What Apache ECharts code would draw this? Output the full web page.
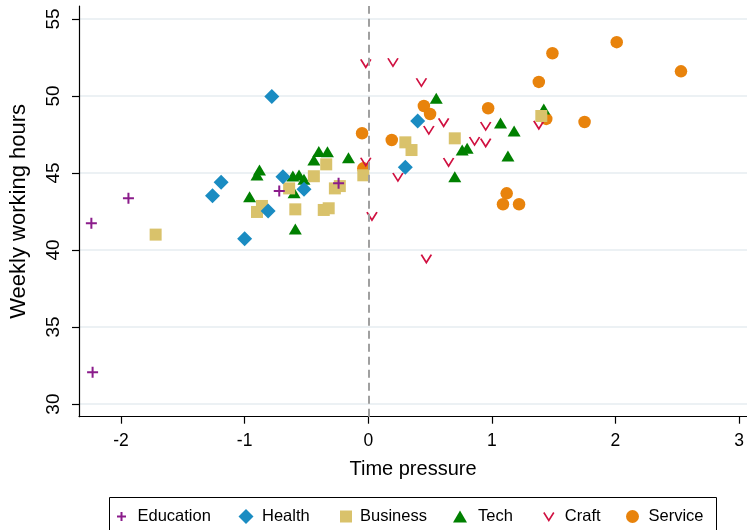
<!DOCTYPE html>
<html>
<head>
<meta charset="utf-8">
<script src="https://cdn.jsdelivr.net/npm/echarts@6/dist/echarts.min.js"></script>
<style>
  html, body { margin: 0; padding: 0; background: #fff; }
  #chart { width: 747px; height: 530px; }
</style>
</head>
<body>
<div id="chart"></div>
<script>
// Occupation groups: time pressure vs. weekly working hours
const categories = ['Education', 'Health', 'Business', 'Tech', 'Craft', 'Service'];
const xTicks = [-2, -1, 0, 1, 2, 3];
const yTicks = [30, 35, 40, 45, 50, 55];

const education = [[-2.24, 41.73], [-1.94, 43.36], [-0.72, 43.83], [-0.24, 44.33], [-2.23, 32.06]];
const health = [[-1.19, 44.40], [-1.26, 43.53], [-1.00, 40.73], [-0.78, 49.96], [-0.69, 44.76],
  [-0.52, 43.94], [-0.81, 42.53], [0.40, 48.38], [0.30, 45.37]];
const business = [[-1.72, 41.00], [-0.90, 42.47], [-0.86, 42.86], [-0.64, 44.00], [-0.44, 44.79],
  [-0.34, 45.56], [-0.59, 42.64], [-0.36, 42.60], [-0.32, 42.71], [-0.27, 44.00], [-0.23, 44.15],
  [-0.04, 44.85], [0.30, 46.99], [0.35, 46.49], [0.70, 47.25], [1.40, 48.70]];
const tech = [[-0.96, 43.46], [-0.88, 45.19], [-0.90, 44.87], [-0.61, 44.81], [-0.56, 44.87],
  [-0.52, 44.59], [-0.60, 43.72], [-0.59, 41.36], [-0.40, 46.40], [-0.33, 46.38], [-0.44, 45.84],
  [-0.16, 45.99], [0.55, 49.85], [0.76, 46.49], [0.80, 46.60], [1.07, 48.25], [1.18, 47.73],
  [1.13, 46.10], [0.70, 44.76], [1.42, 49.16]];
const craft = [[-0.02, 52.12], [0.20, 52.19], [0.43, 50.89], [0.61, 48.29], [0.49, 47.79],
  [0.86, 47.08], [0.95, 46.97], [0.95, 48.05], [0.65, 45.71], [0.24, 44.74], [-0.02, 45.73],
  [0.03, 42.20], [0.47, 39.44], [1.38, 48.12]];
const service = [[-0.05, 47.58], [-0.04, 45.30], [0.45, 49.35], [0.50, 48.83], [0.97, 49.20],
  [0.19, 47.14], [1.12, 43.68], [1.09, 42.97], [1.22, 42.97], [1.38, 50.91], [2.01, 53.49],
  [1.49, 52.77], [2.53, 51.60], [1.44, 48.51], [1.75, 48.31]];

const FONT = "'Liberation Sans', Arial, sans-serif";

// marker look for each group; legend icon box (lw x lh), its left edge and text padding
const styles = {
  Education: { symbol: 'path://M5,0L5,10M0,5L10,5', size: 11, fill: 'transparent', stroke: '#8b1c8b', width: 2,
               lw: 22, lh: 9, left: 116, pad: 0 },
  Health:    { symbol: 'diamond', size: 15, fill: '#1a8cc2', stroke: null, width: 0,
               lw: 15, lh: 15, left: 238.5, pad: 3.5 },
  Business:  { symbol: 'rect', size: 12, fill: '#d9c26b', stroke: null, width: 0,
               lw: 12, lh: 12, left: 340, pad: 3 },
  Tech:      { symbol: 'triangle', size: [13, 11], fill: '#008000', stroke: null, width: 0,
               lw: 14, lh: 12, left: 453, pad: 6 },
  Craft:     { symbol: 'path://M0,0L5,8L10,0', size: [10, 8], fill: 'transparent', stroke: '#d01040', width: 1.6,
               lw: 22, lh: 8, left: 543, pad: 0 },
  Service:   { symbol: 'circle', size: 12.5, fill: '#e8830c', stroke: null, width: 0,
               lw: 22, lh: 13, left: 626, pad: 0 }
};
const seriesData = { Education: education, Health: health, Business: business, Tech: tech, Craft: craft, Service: service };

// later groups sit underneath earlier ones
const drawOrder = ['Service', 'Craft', 'Tech', 'Business', 'Health', 'Education'];

const series = drawOrder.map((name) => {
  const s = styles[name];
  return {
    name: name,
    type: 'scatter',
    data: seriesData[name],
    symbol: s.symbol,
    symbolSize: s.size,
    itemStyle: {
      color: s.fill,
      borderColor: s.stroke || s.fill,
      borderWidth: s.width,
      opacity: 1
    },
    emphasis: { disabled: true }
  };
});

// dashed reference line at zero time pressure
series.push({
  name: 'zero',
  type: 'scatter',
  data: [],
  silent: true,
  markLine: {
    silent: true,
    symbol: 'none',
    label: { show: false },
    lineStyle: { color: '#a0a0a0', width: 2, type: [8, 5] },
    data: [{ xAxis: 0 }]
  }
});

// legend: one entry per group, positioned along the boxed row
const legends = categories.map((name) => {
  const s = styles[name];
  return {
    data: [name],
    left: s.left,
    top: 508,
    padding: 0,
    itemWidth: s.lw,
    itemHeight: s.lh,
    itemGap: 0,
    selectedMode: false,
    itemStyle: { color: s.fill, borderColor: s.stroke || s.fill, borderWidth: s.width },
    textStyle: { fontFamily: FONT, fontSize: 16.5, color: '#000', padding: [0, 0, 0, s.pad] }
  };
});

const chart = echarts.init(document.getElementById('chart'), null, { renderer: 'canvas' });
chart.setOption({
  animation: false,
  backgroundColor: '#fff',
  grid: { left: 73.3, right: 0, top: 6, bottom: 113.3, containLabel: false },
  xAxis: {
    type: 'value',
    min: -2.34,
    max: 3.064,
    name: 'Time pressure',
    nameLocation: 'middle',
    nameGap: 43,
    nameTextStyle: { fontFamily: FONT, fontSize: 20, color: '#000' },
    axisLine: { show: true, onZero: false, lineStyle: { color: '#000', width: 1.2 } },
    axisTick: { show: true, length: 7, customValues: xTicks, lineStyle: { color: '#000', width: 1.2 } },
    axisLabel: { customValues: xTicks, margin: 15, fontFamily: FONT, fontSize: 17.5, color: '#000' },
    splitLine: { show: false }
  },
  yAxis: {
    type: 'value',
    min: 29.18,
    max: 55.84,
    name: 'Weekly working hours',
    nameLocation: 'middle',
    nameGap: 49,
    nameTextStyle: { fontFamily: FONT, fontSize: 22, color: '#000' },
    axisLine: { show: true, onZero: false, lineStyle: { color: '#000', width: 1.2 } },
    axisTick: { show: true, length: 7, customValues: yTicks, lineStyle: { color: '#000', width: 1.2 } },
    axisLabel: { customValues: yTicks, rotate: 90, margin: 16, fontFamily: FONT, fontSize: 19, color: '#000' },
    splitLine: { show: true, lineStyle: { color: '#e6edf0', width: 1.6 } }
  },
  legend: legends,
  graphic: [{
    type: 'rect',
    silent: true,
    shape: { x: 109.5, y: 497.5, width: 607, height: 45 },
    style: { fill: 'none', stroke: '#000', lineWidth: 1 }
  }],
  series: series
});
</script>
</body>
</html>
